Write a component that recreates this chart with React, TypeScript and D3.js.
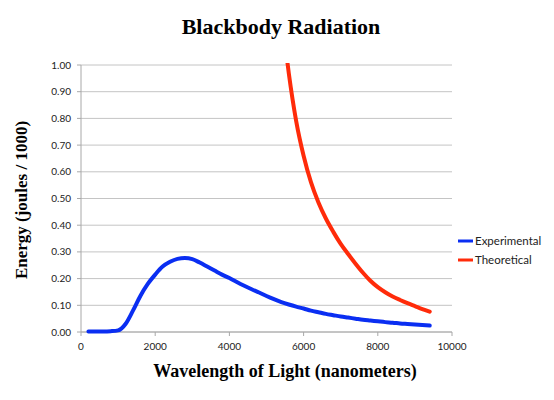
import React from "react";
import * as d3 from "d3";

// Wavelength samples (nm) and measured / predicted energy (joules / 1000)
const expWavelengths = [
  200, 400, 600, 800, 1000, 1200, 1400, 1600, 1800, 2000, 2200, 2400, 2600, 2800,
  3000, 3200, 3400, 3600, 3800, 4000, 4200, 4400, 4600, 4800, 5000, 5200, 5400,
  5600, 5800, 6000, 6200, 6400, 6600, 6800, 7000, 7200, 7400, 7600, 7800, 8000,
  8200, 8400, 8600, 8800, 9000, 9200, 9400,
];
const expEnergy = [
  0.002, 0.002, 0.002, 0.003, 0.006, 0.03, 0.08, 0.135, 0.18, 0.215, 0.245, 0.263,
  0.274, 0.277, 0.273, 0.26, 0.245, 0.23, 0.215, 0.202, 0.187, 0.173, 0.16, 0.148,
  0.135, 0.123, 0.112, 0.103, 0.095, 0.088, 0.08, 0.074, 0.068, 0.063, 0.058, 0.054,
  0.05, 0.046, 0.043, 0.04, 0.037, 0.035, 0.032, 0.03, 0.028, 0.026, 0.024,
];

const theoWavelengths = [
  5500, 5600, 5800, 6000, 6200, 6400, 6600, 6800, 7000, 7200, 7400, 7600, 7800,
  8000, 8200, 8400, 8600, 8800, 9000, 9200, 9400,
];
const theoEnergy = [
  1.08, 0.97, 0.79, 0.66, 0.56, 0.485, 0.425, 0.375, 0.33, 0.292, 0.256, 0.222,
  0.192, 0.168, 0.149, 0.133, 0.12, 0.108, 0.097, 0.086, 0.076,
];

const xTicks = [0, 2000, 4000, 6000, 8000, 10000];
const yTicks = [0, 0.1, 0.2, 0.3, 0.4, 0.5, 0.6, 0.7, 0.8, 0.9, 1.0];

const seriesNames = ["Experimental", "Theoretical"];
const seriesColors = ["#0a2ef2", "#ff2b0a"];

const W = 554;
const H = 400;
const plot = { left: 81, right: 452, top: 65, bottom: 332 };

export default function App() {
  const x = d3.scaleLinear().domain([0, 10000]).range([plot.left, plot.right]);
  const y = d3.scaleLinear().domain([0, 1]).range([plot.bottom, plot.top]);

  const line = d3
    .line<[number, number]>()
    .x((d) => x(d[0]))
    .y((d) => y(d[1]))
    .curve(d3.curveMonotoneX);

  const expPts: [number, number][] = expWavelengths.map((w, i) => [w, expEnergy[i]]);
  const theoPts: [number, number][] = theoWavelengths.map((w, i) => [w, theoEnergy[i]]);

  const serif = "'Liberation Serif', 'Times New Roman', serif";
  const sans = "Lato, 'Open Sans', sans-serif";

  return (
    <svg
      width={W}
      height={H}
      style={{ position: "absolute", left: 0, top: 0, background: "#fff" }}
    >
      <defs>
        <clipPath id="plotClip">
          <rect x={plot.left} y={plot.top - 2} width={plot.right - plot.left + 4} height={plot.bottom - plot.top + 6} />
        </clipPath>
      </defs>

      {/* horizontal gridlines with small left ticks */}
      {yTicks.map((t) => (
        <g key={"y" + t}>
          <line x1={plot.left} x2={plot.right} y1={y(t)} y2={y(t)} stroke="#c4c4c4" strokeWidth={1} />
          <line x1={plot.left - 4} x2={plot.left} y1={y(t)} y2={y(t)} stroke="#a8a8a8" strokeWidth={1} />
          <text
            x={plot.left - 10}
            y={y(t)}
            dy="0.35em"
            textAnchor="end"
            fontFamily={sans}
            fontSize={10}
            fill="#222"
          >
            {t.toFixed(2)}
          </text>
        </g>
      ))}

      {/* axis lines */}
      <line x1={plot.left} x2={plot.left} y1={plot.top} y2={plot.bottom} stroke="#a8a8a8" strokeWidth={1} />
      <line x1={plot.left} x2={plot.right} y1={plot.bottom} y2={plot.bottom} stroke="#a8a8a8" strokeWidth={1} />

      {/* x ticks */}
      {xTicks.map((t) => (
        <g key={"x" + t}>
          <line x1={x(t)} x2={x(t)} y1={plot.bottom} y2={plot.bottom + 4} stroke="#a8a8a8" strokeWidth={1} />
          <text
            x={x(t)}
            y={plot.bottom + 18}
            textAnchor="middle"
            fontFamily={sans}
            fontSize={10}
            fill="#222"
          >
            {t}
          </text>
        </g>
      ))}

      {/* series */}
      <g clipPath="url(#plotClip)">
        <path d={line(expPts) ?? ""} fill="none" stroke={seriesColors[0]} strokeWidth={4} strokeLinecap="round" strokeLinejoin="round" />
        <path d={line(theoPts) ?? ""} fill="none" stroke={seriesColors[1]} strokeWidth={4} strokeLinecap="round" strokeLinejoin="round" />
      </g>

      {/* legend */}
      {seriesNames.map((name, i) => (
        <g key={name} transform={`translate(458, ${241 + i * 19})`}>
          <line x1={0} x2={15} y1={0} y2={0} stroke={seriesColors[i]} strokeWidth={3} />
          <text x={17} y={0} dy="0.35em" fontFamily={sans} fontSize={11.5} fill="#222">
            {name}
          </text>
        </g>
      ))}

      {/* titles */}
      <text x={281} y={34} textAnchor="middle" fontFamily={serif} fontWeight="bold" fontSize={22} fill="#000">
        Blackbody Radiation
      </text>
      <text x={285} y={377} textAnchor="middle" fontFamily={serif} fontWeight="bold" fontSize={18} fill="#000">
        Wavelength of Light (nanometers)
      </text>
      <text
        transform={`translate(27, 200) rotate(-90)`}
        textAnchor="middle"
        fontFamily={serif}
        fontWeight="bold"
        fontSize={17}
        fill="#000"
      >
        Energy (joules / 1000)
      </text>
    </svg>
  );
}
